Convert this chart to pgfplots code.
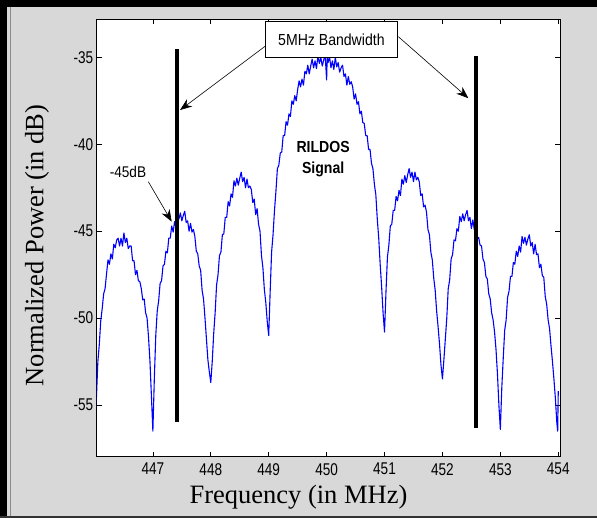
\documentclass[border=0pt]{standalone}
\usepackage{pgfplots}
\pgfplotsset{compat=1.18}
\usetikzlibrary{arrows.meta}
\usepackage{fontspec}
\setmainfont{Liberation Serif}
\newfontfamily\tickfont[FakeStretch=0.8]{Liberation Sans}
\newfontfamily\annfont[FakeStretch=0.88]{Liberation Sans}
\definecolor{bggray}{RGB}{216,216,216}
\begin{document}
\begin{tikzpicture}
\useasboundingbox (-96.7pt,-61.3pt) rectangle (500.3pt,456.7pt);
\fill[bggray] (-96.7pt,-61.3pt) rectangle (500.3pt,456.7pt);
\fill[black] (-96.7pt,-61.3pt) rectangle (-89.7pt,456.7pt);
\fill[black] (-96.7pt,449.7pt) rectangle (500.3pt,456.7pt);
\fill[black!80] (-96.7pt,-61.3pt) rectangle (500.3pt,-59.3pt);
\draw[black!45,line width=0.8pt] (-86.5pt,-59.3pt) -- (-86.5pt,449.7pt);
\begin{axis}[
  scale only axis,
  width=463.3pt, height=437.4pt,
  xmin=446.03, xmax=454.03,
  ymin=-57.97, ymax=-32.81,
  axis background/.style={fill=white},
  axis line style={black, line width=0.8pt},
  xtick={447,448,449,450,451,452,453,454},
  xticklabels={447,448,449,450,451,452,453,454},
  ytick={-55,-50,-45,-40,-35},
  yticklabels={-55,-50,-45,-40,-35},
  xtick pos=both, ytick pos=both,
  tick align=inside,
  major tick length=5pt,
  tick style={black, line width=0.6pt},
  ticklabel style={font=\tickfont\fontsize{17}{17}\selectfont},
  xticklabel style={yshift=-3pt},
  xlabel={Frequency (in MHz)},
  ylabel={Normalized Power (in dB)},
  label style={font=\fontsize{26.5}{30}\selectfont},
  xlabel style={at={(axis description cs:0.4356,-0.1065)}, anchor=base},
  ylabel style={at={(axis description cs:-0.1153,0.483)}, anchor=base, rotate=0},
]
\addplot[blue, line width=1.1pt, line join=round] table {
446.000 -56.4
446.025 -54.6
446.050 -52.5
446.075 -51.5
446.100 -50.15
446.125 -49.45
446.150 -48.6
446.175 -48.3
446.200 -47.45
446.225 -46.65
446.250 -46.9
446.275 -46.3
446.300 -46.6
446.325 -45.75
446.350 -45.95
446.375 -45.5
446.400 -45.4
446.425 -45.85
446.450 -45.4
446.475 -45.85
446.500 -45.1
446.525 -45.65
446.550 -45.4
446.575 -46.0
446.600 -45.85
446.625 -45.85
446.650 -46.7
446.675 -46.7
446.700 -47.5
446.725 -47.25
446.750 -47.85
446.775 -47.9
446.800 -48.3
446.825 -48.95
446.850 -48.9
446.875 -49.7
446.900 -50.0
446.925 -51.1
446.950 -52.5
446.975 -54.5
447.000 -56.5
447.025 -53.5
447.050 -51.0
447.075 -49.6
447.100 -49.0
447.125 -48.0
447.150 -47.85
447.175 -47.0
447.200 -46.9
447.225 -46.15
447.250 -46.25
447.275 -45.4
447.300 -45.4
447.325 -44.7
447.350 -45.05
447.375 -44.45
447.400 -44.8
447.425 -43.9
447.450 -44.3
447.475 -43.95
447.500 -44.4
447.525 -44.1
447.550 -43.85
447.575 -44.5
447.600 -44.4
447.625 -45.0
447.650 -44.55
447.675 -45.05
447.700 -44.9
447.725 -45.3
447.750 -46.15
447.775 -46.3
447.800 -47.0
447.825 -47.25
447.850 -48.4
447.875 -48.9
447.900 -50.0
447.925 -51.2
447.950 -52.4
447.975 -53.1
448.000 -53.7
448.025 -52.5
448.050 -50.9
448.075 -49.7
448.100 -48.1
448.125 -47.5
448.150 -46.4
448.175 -46.2
448.200 -45.2
448.225 -45.15
448.250 -44.2
448.275 -44.2
448.300 -43.3
448.325 -43.55
448.350 -42.85
448.375 -43.05
448.400 -42.1
448.425 -42.4
448.450 -41.95
448.475 -42.35
448.500 -41.95
448.525 -41.6
448.550 -42.15
448.575 -41.9
448.600 -42.5
448.625 -42.0
448.650 -42.5
448.675 -42.4
448.700 -42.6
448.725 -43.35
448.750 -43.15
448.775 -44.05
448.800 -43.7
448.825 -44.6
448.850 -45.0
448.875 -46.4
448.900 -47.1
448.925 -48.35
448.950 -49.1
448.975 -50.2
449.000 -51.0
449.025 -48.5
449.050 -46.2
449.075 -45.2
449.100 -43.8
449.125 -42.7
449.150 -41.4
449.175 -41.2
449.200 -40.5
449.225 -40.45
449.250 -39.5
449.275 -39.5
449.300 -38.7
449.325 -38.9
449.350 -38.25
449.375 -38.4
449.400 -37.5
449.425 -37.7
449.450 -37.2
449.475 -37.5
449.500 -36.85
449.525 -36.35
449.550 -36.7
449.575 -36.25
449.600 -36.6
449.625 -35.8
449.650 -35.95
449.675 -35.45
449.700 -35.95
449.725 -35.5
449.750 -35.1
449.775 -35.6
449.800 -35.2
449.825 -35.65
449.850 -34.9
449.875 -35.35
449.900 -35.0
449.925 -35.5
449.950 -35.15
449.975 -34.85
450.000 -36.3
450.010 -35.0
450.025 -35.3
450.050 -34.95
450.075 -35.6
450.100 -35.2
450.125 -35.7
450.150 -35.0
450.175 -35.55
450.200 -35.3
450.225 -35.85
450.250 -35.6
450.275 -35.45
450.300 -36.1
450.325 -35.95
450.350 -36.6
450.375 -36.1
450.400 -36.55
450.425 -36.4
450.450 -36.7
450.475 -37.4
450.500 -37.1
450.525 -37.7
450.550 -37.55
450.575 -38.25
450.600 -38.1
450.625 -38.75
450.650 -38.8
450.675 -39.5
450.700 -39.5
450.725 -40.3
450.750 -40.3
450.775 -41.1
450.800 -41.4
450.825 -42.3
450.850 -42.9
450.875 -44.3
450.900 -45.4
450.925 -46.9
450.950 -48.2
450.975 -49.7
451.000 -50.8
451.025 -48.5
451.050 -46.5
451.075 -45.8
451.100 -44.7
451.125 -44.6
451.150 -43.8
451.175 -43.8
451.200 -43.0
451.225 -43.25
451.250 -42.65
451.275 -42.95
451.300 -42.0
451.325 -42.3
451.350 -41.8
451.375 -42.2
451.400 -41.75
451.425 -41.4
451.450 -41.9
451.475 -41.6
451.500 -42.15
451.525 -41.6
451.550 -42.05
451.575 -41.9
451.600 -42.15
451.625 -42.95
451.650 -42.85
451.675 -43.6
451.700 -43.5
451.725 -43.9
451.750 -44.9
451.775 -45.2
451.800 -46.2
451.825 -46.65
451.850 -47.7
451.875 -48.4
451.900 -49.6
451.925 -50.5
451.950 -51.5
451.975 -52.7
452.000 -53.5
452.025 -52.4
452.050 -51.2
452.075 -50.0
452.100 -48.3
452.125 -47.8
452.150 -46.6
452.175 -46.35
452.200 -45.5
452.225 -45.55
452.250 -44.85
452.275 -45.0
452.300 -44.15
452.325 -44.45
452.350 -44.0
452.375 -44.4
452.400 -44.05
452.425 -43.8
452.450 -44.4
452.475 -44.2
452.500 -44.85
452.525 -44.35
452.550 -44.9
452.575 -44.75
452.600 -45.45
452.625 -45.35
452.650 -45.8
452.675 -45.85
452.700 -46.6
452.725 -46.8
452.750 -47.6
452.775 -47.75
452.800 -48.6
452.825 -48.9
452.850 -49.7
452.875 -50.1
452.900 -50.8
452.925 -51.8
452.950 -53.2
452.975 -55.0
453.000 -56.4
453.025 -54.0
453.050 -52.3
453.075 -50.7
453.100 -50.1
453.125 -48.8
453.150 -48.45
453.175 -47.6
453.200 -47.6
453.225 -46.8
453.250 -46.9
453.275 -46.15
453.300 -46.45
453.325 -45.85
453.350 -46.2
453.375 -45.3
453.400 -45.7
453.425 -45.35
453.450 -45.8
453.475 -45.45
453.500 -45.2
453.525 -45.85
453.550 -45.65
453.575 -46.3
453.600 -45.75
453.625 -46.35
453.650 -46.3
453.675 -47.1
453.700 -46.9
453.725 -47.55
453.750 -47.65
453.775 -48.75
453.800 -49.2
453.825 -50.1
453.850 -50.6
453.875 -51.6
453.900 -52.5
453.925 -53.5
453.950 -54.6
453.975 -56.0
453.990 -56.5
454.000 -54.2
};
% bandwidth markers
\addplot[black, line width=4.3pt] coordinates {(447.412,-34.52) (447.412,-55.96)};
\addplot[black, line width=4.3pt] coordinates {(452.576,-34.92) (452.576,-56.30)};
% annotations
\draw[black, line width=0.6pt, -{Stealth[length=12pt,width=9pt]}] (axis cs:448.966,-34.29) -- (axis cs:447.469,-38.03);
\draw[black, line width=0.6pt, -{Stealth[length=12pt,width=9pt]}] (axis cs:451.239,-33.81) -- (axis cs:452.448,-37.35);
\draw[black, line width=0.6pt, -{Stealth[length=12pt,width=9pt]}] (axis cs:446.921,-42.15) -- (axis cs:447.325,-44.45);
\node[draw=black, line width=0.8pt, fill=white, minimum width=132.7pt, minimum height=36.7pt, inner sep=0pt,
  font=\annfont\fontsize{16}{16}\selectfont] at (axis cs:450.083,-33.965) {5MHz Bandwidth};
\node[font=\annfont\fontsize{15.5}{16}\selectfont] at (axis cs:446.57,-41.59) {-45dB};
\node[align=center, font=\annfont\bfseries\fontsize{16}{21}\selectfont] at (axis cs:449.94,-40.83) {RILDOS\\Signal};
\end{axis}
\end{tikzpicture}
\end{document}
